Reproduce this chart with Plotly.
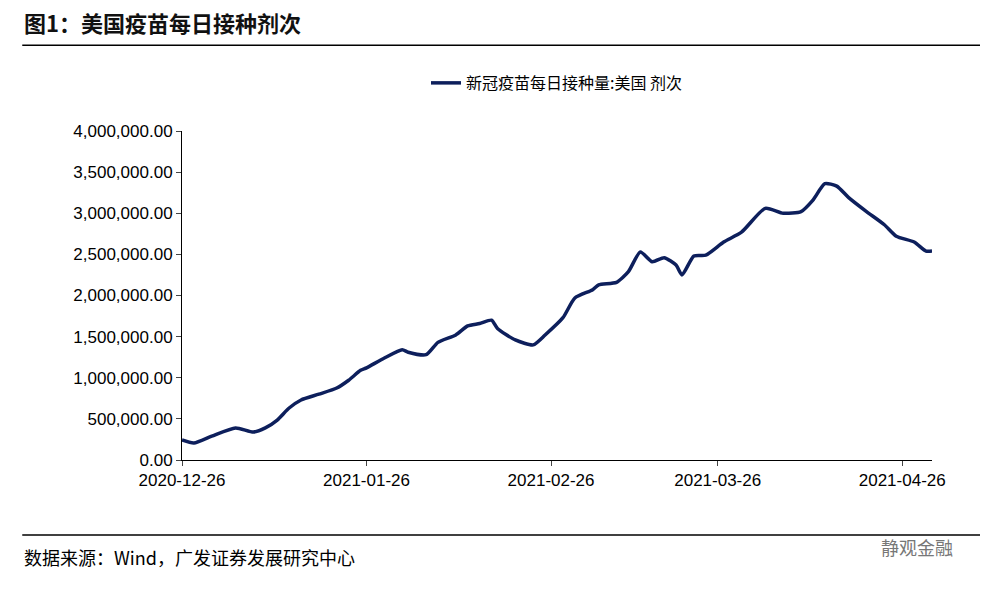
import plotly.graph_objects as go
import pandas as pd

day_offsets = [0,2,5,9,12,14,16,18,20,23,26,28,30,31,34,37,38,41,43,46,48,50,52,53,56,59,61,64,66,69,70,73,75,77,79,81,83,84,86,88,91,94,98,101,104,106,108,110,112,115,118,120,123,125,126]
values = [243e3,207e3,290e3,390e3,340e3,390e3,486e3,632e3,730e3,800e3,875e3,970e3,1.09e6,1.12e6,1.24e6,1.34e6,1.31e6,1.28e6,1.43e6,1.52e6,1.63e6,1.66e6,1.70e6,1.60e6,1.46e6,1.40e6,1.52e6,1.73e6,1.97e6,2.07e6,2.13e6,2.16e6,2.29e6,2.53e6,2.41e6,2.46e6,2.37e6,2.25e6,2.48e6,2.49e6,2.65e6,2.77e6,3.06e6,3.00e6,3.02e6,3.16e6,3.36e6,3.33e6,3.19e6,3.02e6,2.86e6,2.72e6,2.65e6,2.54e6,2.54e6]
dates = pd.Timestamp("2020-12-26") + pd.to_timedelta(day_offsets, unit="D")
tick_dates = ["2020-12-26","2021-01-26","2021-02-26","2021-03-26","2021-04-26"]

font = "Noto Sans CJK SC"
fig = go.Figure(go.Scatter(x=dates, y=values, mode="lines", line=dict(color="#0d1f5c", width=3.5, shape="spline", smoothing=0.6),
                           name="新冠疫苗每日接种量:美国 剂次"))
fig.update_layout(
    width=988, height=589, paper_bgcolor="white", plot_bgcolor="white",
    margin=dict(l=174, r=64, t=123, b=137),
    font=dict(family="Liberation Sans, Arial", size=17, color="black"),
    showlegend=True,
    legend=dict(orientation="h", x=0.5, xanchor="center", y=1.146, yanchor="middle", bgcolor="rgba(0,0,0,0)",
                font=dict(family=font, size=16)),
    xaxis=dict(type="date", range=["2020-12-26","2021-05-01"], tickvals=tick_dates, ticktext=tick_dates,
               showline=True, linecolor="black", ticks="outside", ticklen=5, showgrid=False, zeroline=False),
    yaxis=dict(range=[0,4e6], dtick=5e5, tickformat=",.2f", showline=True, linecolor="black", ticks="outside",
               ticklen=5, showgrid=False, zeroline=False),
    shapes=[dict(type="line", xref="paper", yref="paper", x0=-0.213, x1=1.064, y0=1.261, y1=1.261, line=dict(color="black", width=1.5)),
            dict(type="line", xref="paper", yref="paper", x0=-0.213, x1=1.064, y0=-0.228, y1=-0.228, line=dict(color="black", width=1.5))],
    annotations=[
        dict(text="<b>图1：美国疫苗每日接种剂次</b>", xref="paper", yref="paper", x=-0.213, y=1.331, xanchor="left", yanchor="middle",
             showarrow=False, font=dict(family=font, size=22, color="#111111")),
        dict(text="数据来源：Wind，广发证券发展研究中心", xref="paper", yref="paper", x=-0.213, y=-0.295, xanchor="left", yanchor="middle",
             showarrow=False, font=dict(family=font, size=18)),
        dict(text="静观金融", xref="paper", yref="paper", x=1.03, y=-0.263, xanchor="right", yanchor="middle",
             showarrow=False, font=dict(family=font, size=18, color="#777777")),
    ],
)
fig.write_html("out.html")
